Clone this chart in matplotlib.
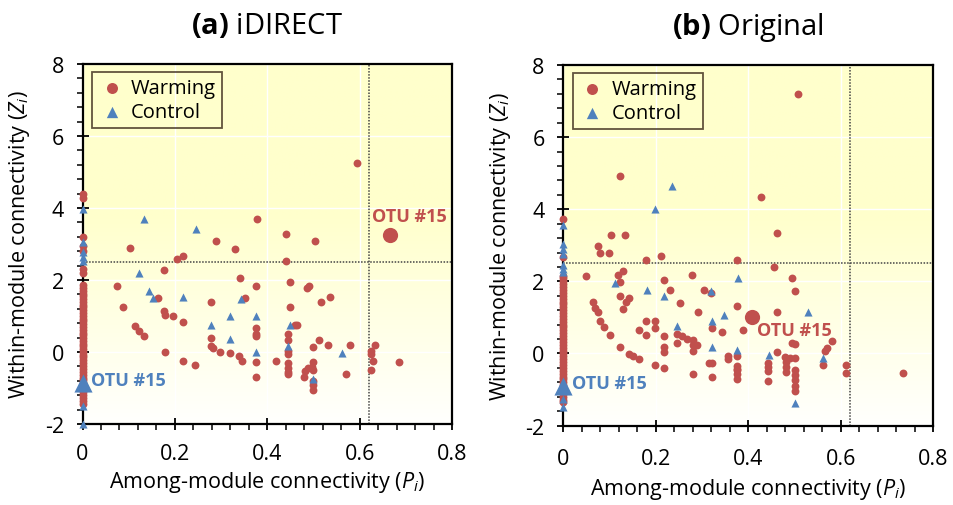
import numpy as np
import matplotlib
matplotlib.use("Agg")
import matplotlib.pyplot as plt
from matplotlib.ticker import MultipleLocator
from matplotlib.colors import LinearSegmentedColormap

plt.rcParams['font.family'] = ['Open Sans', 'DejaVu Sans']
plt.rcParams['axes.unicode_minus'] = False
plt.rcParams['mathtext.fontset'] = 'custom'
plt.rcParams['mathtext.rm'] = 'Open Sans'
plt.rcParams['mathtext.it'] = 'Open Sans:italic'
plt.rcParams['mathtext.bf'] = 'Open Sans:bold'

RED = '#C0504D'
BLUE = '#4F81BD'

# ---- (a) iDIRECT ----
a_warm_p = [0.594, 0.377, 0.441, 0.504, 0.289, 0.103, 0.331, 0.441, 0.205, 0.217,
            0.176, 0.341, 0.074, 0.375, 0.449, 0.485, 0.490, 0.164, 0.351, 0.535,
            0.278, 0.516, 0.088, 0.450, 0.177, 0.178, 0.196, 0.217, 0.460, 0.465,
            0.114, 0.123, 0.133, 0.375, 0.375, 0.375, 0.444, 0.444, 0.278, 0.278,
            0.283, 0.297, 0.511, 0.531, 0.580, 0.499, 0.444, 0.444, 0.319, 0.338,
            0.346, 0.375, 0.375, 0.178, 0.217, 0.243, 0.633, 0.625, 0.625, 0.629,
            0.625, 0.686, 0.571, 0.418, 0.444, 0.444, 0.444, 0.444, 0.499, 0.496,
            0.488, 0.481, 0.480, 0.499, 0.499, 0.499, 0.499]
a_warm_z = [5.26, 3.69, 3.28, 3.09, 3.09, 2.90, 2.86, 2.52, 2.58, 2.66,
            2.28, 2.06, 1.84, 1.84, 1.95, 1.77, 1.84, 1.50, 1.50, 1.52,
            1.38, 1.38, 1.25, 1.25, 1.15, 1.03, 0.99, 0.84, 0.75, 0.75,
            0.71, 0.59, 0.45, 0.66, 0.50, 0.44, 0.50, 0.33, 0.38, 0.18,
            0.10, -0.01, 0.34, 0.20, 0.20, 0.15, 0.04, -0.06, -0.04, -0.12,
            -0.24, -0.29, -0.68, 0.00, -0.25, -0.35, 0.20, 0.04, -0.06, -0.26,
            -0.50, -0.29, -0.60, -0.24, -0.31, -0.43, -0.55, -0.61, -0.29, -0.41,
            -0.43, -0.54, -0.68, -0.49, -0.80, -0.91, -1.05]
a_warm_zero_z = [4.39, 4.27, 3.20, 2.95, 2.82, 2.30, 2.20, 1.85, 1.78, 1.70, 1.62,
                 1.55, 1.47, 1.40, 1.31, 1.24, 1.16, 1.08, 1.00, 0.93, 0.85,
                 0.77, 0.70, 0.62, 0.54, 0.46, 0.39, 0.31, 0.23, 0.16, 0.08,
                 0.00, -0.08, -0.15, -0.23, -0.31, -0.39, -0.47, -0.55, -0.63,
                 -0.71, -0.79, -0.87, -0.95, -1.03, -1.11, -1.19, -1.27, -1.35, -1.43]
a_ctrl_p = [0.134, 0.245, 0.123, 0.143, 0.153, 0.218, 0.344, 0.320, 0.375, 0.279,
            0.449, 0.320, 0.375, 0.444, 0.562, 0.499]
a_ctrl_z = [3.69, 3.42, 2.19, 1.70, 1.49, 1.52, 1.47, 1.01, 1.01, 0.75,
            0.75, 0.36, -0.01, 0.16, -0.02, -0.75]
a_ctrl_zero_z = [3.97, 3.05, 2.78, 2.64, 2.53, -1.50, -2.00]
a_otu_warm = (0.665, 3.26)
a_otu_ctrl = (0.0, -0.86)

# ---- (b) Original ----
b_warm_p = [0.507, 0.123, 0.427, 0.463, 0.103, 0.133, 0.076, 0.079, 0.099, 0.179,
            0.212, 0.376, 0.456, 0.050, 0.119, 0.130, 0.123, 0.218, 0.279, 0.494,
            0.500, 0.231, 0.304, 0.320, 0.123, 0.143, 0.136, 0.130, 0.065, 0.069,
            0.074, 0.252, 0.375, 0.292, 0.463, 0.079, 0.087, 0.179, 0.198, 0.198,
            0.164, 0.321, 0.344, 0.388, 0.100, 0.179, 0.218, 0.245, 0.256, 0.267,
            0.280, 0.288, 0.245, 0.280, 0.280, 0.218, 0.218, 0.123, 0.141, 0.151,
            0.164, 0.198, 0.218, 0.280, 0.314, 0.321, 0.321, 0.357, 0.357, 0.375,
            0.375, 0.375, 0.375, 0.376, 0.376, 0.494, 0.501, 0.580, 0.571, 0.566,
            0.463, 0.443, 0.443, 0.443, 0.443, 0.479, 0.490, 0.501, 0.481, 0.481,
            0.481, 0.501, 0.501, 0.501, 0.501, 0.501, 0.561, 0.611, 0.611, 0.735]
b_warm_z = [7.21, 4.92, 4.33, 3.34, 3.29, 3.29, 2.97, 2.79, 2.79, 2.60,
            2.71, 2.60, 2.40, 2.16, 2.18, 2.30, 1.98, 2.05, 2.18, 2.09,
            1.73, 1.77, 1.77, 1.68, 1.59, 1.53, 1.42, 1.24, 1.42, 1.26,
            1.16, 1.40, 1.33, 1.16, 1.14, 0.91, 0.73, 0.91, 0.91, 0.70,
            0.66, 0.70, 0.59, 0.65, 0.50, 0.50, 0.48, 0.54, 0.48, 0.40,
            0.36, 0.24, 0.29, 0.24, 0.08, 0.17, 0.04, 0.17, -0.01, -0.06,
            -0.15, -0.32, -0.41, -0.57, -0.26, -0.26, -0.65, -0.06, -0.15, -0.06,
            -0.34, -0.43, -0.70, -0.45, -0.57, 0.29, 0.27, 0.34, 0.15, 0.08,
            0.05, -0.26, -0.38, -0.50, -0.76, -0.10, -0.12, -0.13, -0.24, -0.38,
            -0.52, -0.47, -0.59, -0.75, -0.89, -1.03, -0.33, -0.33, -0.55, -0.55]
b_warm_zero_z = [3.73, 2.67, 2.16, 2.08, 2.00, 1.92, 1.84, 1.76, 1.68, 1.60, 1.52,
                 1.44, 1.36, 1.28, 1.20, 1.12, 1.04, 0.96, 0.88, 0.80, 0.72,
                 0.64, 0.56, 0.48, 0.40, 0.32, 0.24, 0.16, 0.08, 0.00, -0.08,
                 -0.16, -0.24, -0.32, -0.40, -0.48, -0.56, -0.64, -0.72, -0.80,
                 -0.88, -0.96, -1.04, -1.12, -1.20, -1.28, -1.35]
b_ctrl_p = [0.236, 0.199, 0.377, 0.112, 0.180, 0.320, 0.218, 0.348, 0.530, 0.321,
            0.245, 0.321, 0.375, 0.445, 0.562, 0.501]
b_ctrl_z = [4.65, 4.01, 2.09, 1.96, 1.77, 1.72, 1.58, 1.07, 1.16, 0.91,
            0.77, 0.17, 0.10, -0.03, -0.12, -1.37]
b_ctrl_zero_z = [3.57, 3.04, 2.90, 2.75, 2.44, 2.35, 2.25, -1.25, -1.49]
b_otu_warm = (0.409, 1.00)
b_otu_ctrl = (0.0, -0.89)

x_ticks = [0, 0.2, 0.4, 0.6, 0.8]
x_tick_labels = ['0', '0.2', '0.4', '0.6', '0.8']
p_cut = 0.62
z_cut = 2.5

fig = plt.figure(figsize=(9.54, 5.06), dpi=100)
ax_a = fig.add_axes([0.0865, 0.160, 0.3873, 0.7115])
ax_b = fig.add_axes([0.5905, 0.157, 0.3878, 0.7125])

bg = LinearSegmentedColormap.from_list('bg', ['#FFFFFF', '#FFFFCC'])
grad = np.clip((np.linspace(8, -2, 200) + 2.2) / 6.0, 0, 1)[:, None]


def panel(ax, title_tag, title, wp, wz, wz0, cp, cz, cz0, otu_w, otu_c,
          txt_w, txt_c, xpad, xlabpad):
    ax.imshow(grad, cmap=bg, vmin=0, vmax=1, aspect='auto',
              extent=[0, 0.8, -2, 8], zorder=0, interpolation='bilinear')
    ax.set_xlim(0, 0.8)
    ax.set_ylim(-2, 8)
    ax.set_xticks(x_ticks)
    ax.set_xticklabels(x_tick_labels)
    ax.xaxis.set_minor_locator(MultipleLocator(0.04))
    ax.yaxis.set_major_locator(MultipleLocator(2))
    ax.yaxis.set_minor_locator(MultipleLocator(0.4))
    ax.grid(True, which='major', color='white', lw=1.0, zorder=1)
    ax.set_axisbelow(True)
    ax.tick_params(which='major', direction='inout', length=9, width=1.3,
                   labelsize=15.5)
    ax.tick_params(axis='y', which='major', pad=9)
    ax.tick_params(axis='x', which='major', pad=xpad)
    ax.tick_params(which='minor', direction='out', length=4, width=1.1)
    for s in ax.spines.values():
        s.set_linewidth(1.6)
        s.set_color('black')
        s.set_zorder(2)

    ax.axvline(p_cut, color='#444444', ls=(0, (1, 1)), lw=1.1, zorder=2)
    ax.axhline(z_cut, color='#444444', ls=(0, (1, 1)), lw=1.1, zorder=2)

    ax.scatter(wp, wz, s=32, color=RED, zorder=4, lw=0, label='Warming')
    ax.scatter([0] * len(wz0), wz0, s=32, color=RED, zorder=5, lw=0,
               clip_on=False)
    ax.scatter(cp, cz, s=34, marker='^', color=BLUE, zorder=4, lw=0,
               label='Control')
    ax.scatter([0] * len(cz0), cz0, s=34, marker='^', color=BLUE, zorder=5,
               lw=0, clip_on=False)
    ax.scatter([otu_w[0]], [otu_w[1]], s=120, color=RED, zorder=6, lw=0)
    ax.scatter([otu_c[0]], [otu_c[1]], s=170, marker='^', color=BLUE,
               zorder=6, lw=0, clip_on=False)
    ax.text(txt_w[0], txt_w[1], 'OTU #15', color=RED, fontsize=13,
            fontweight='bold', ha='center', va='center', zorder=7)
    ax.text(txt_c[0], txt_c[1], 'OTU #15', color=BLUE, fontsize=13,
            fontweight='bold', ha='left', va='center', zorder=7)

    leg = ax.legend(loc='upper left', bbox_to_anchor=(0.027, 0.977),
                    borderaxespad=0, fontsize=14.5, markerscale=1.4,
                    frameon=True, fancybox=False, handletextpad=0.3,
                    handlelength=1.3, borderpad=0.3, labelspacing=0.2)
    leg.get_frame().set_edgecolor('#3B2A1A')
    leg.get_frame().set_linewidth(1.3)
    leg.get_frame().set_facecolor('none')

    ax.set_xlabel('Among-module connectivity ($P_i$)', fontsize=15.5,
                  labelpad=xlabpad)
    ax.set_ylabel('Within-module connectivity ($Z_i$)', fontsize=15.5,
                  labelpad=9)
    ax.set_title(r'$\mathbf{' + title_tag + r'}$ ' + title, fontsize=21,
                 pad=22)


panel(ax_a, '(a)', 'iDIRECT', a_warm_p, a_warm_z, a_warm_zero_z,
      a_ctrl_p, a_ctrl_z, a_ctrl_zero_z, a_otu_warm, a_otu_ctrl,
      (0.708, 3.77), (0.018, -0.77), 9, 4)
panel(ax_b, '(b)', 'Original', b_warm_p, b_warm_z, b_warm_zero_z,
      b_ctrl_p, b_ctrl_z, b_ctrl_zero_z, b_otu_warm, b_otu_ctrl,
      (0.499, 0.64), (0.018, -0.82), 12, 5)

fig.savefig('out.png', dpi=100)
